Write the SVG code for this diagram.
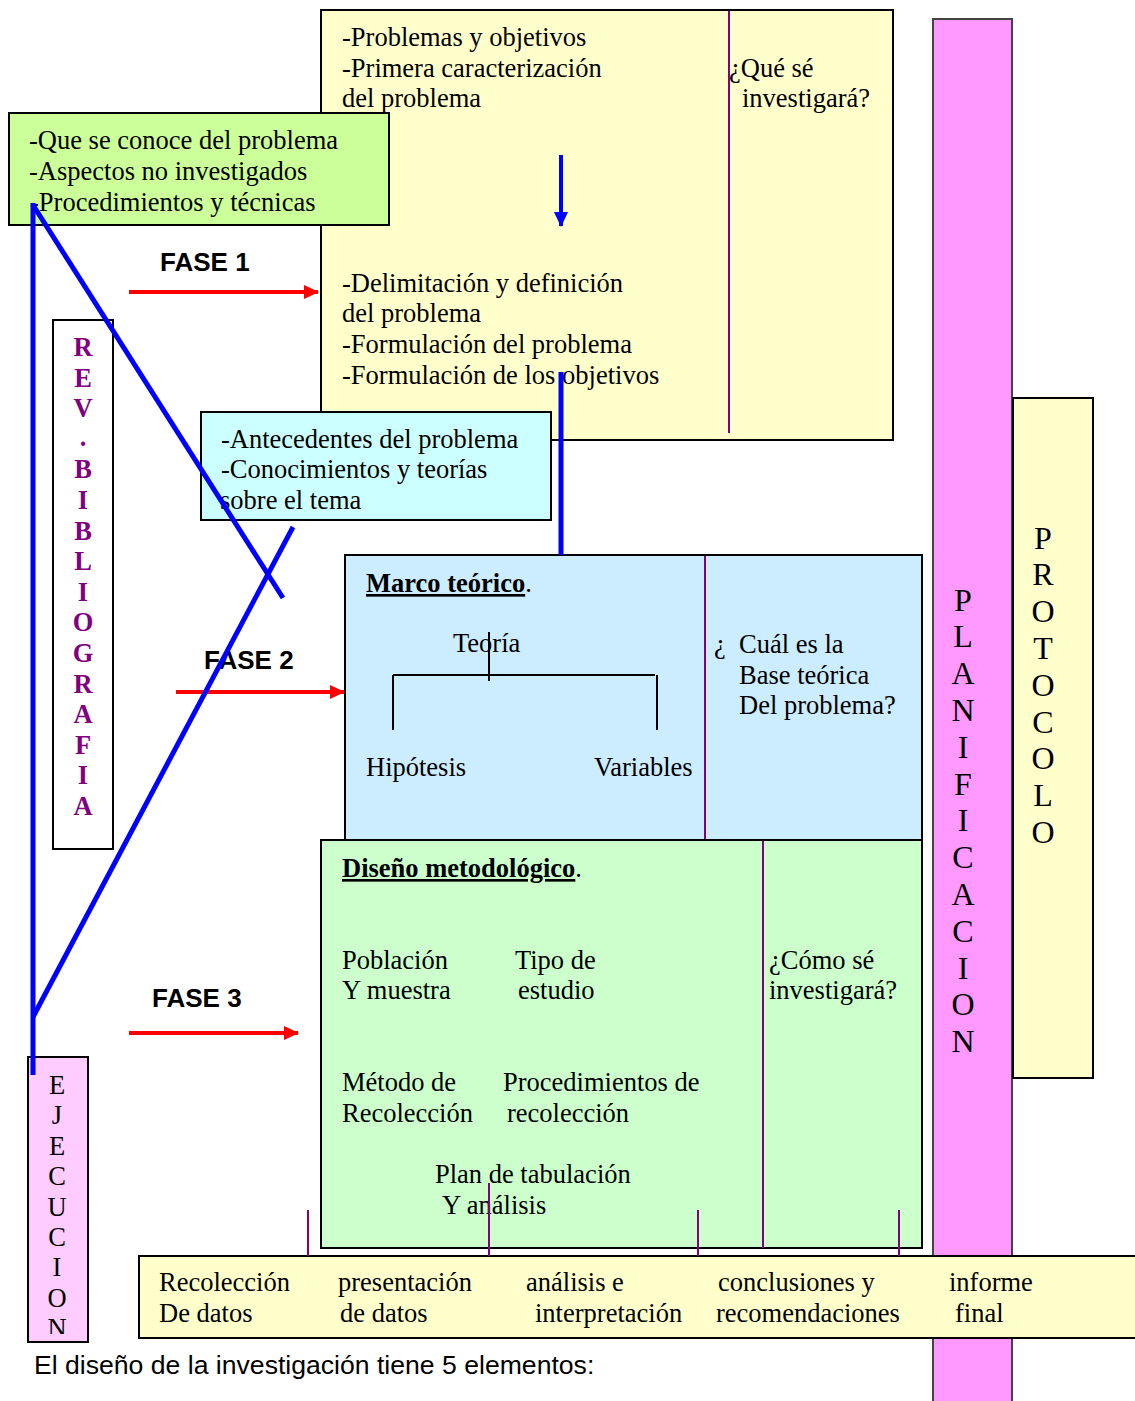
<svg xmlns="http://www.w3.org/2000/svg" width="1135" height="1401" viewBox="0 0 1135 1401">
<style>
.t{font-family:"Liberation Serif","Times New Roman",serif;font-size:26.5px;fill:#000}
.tb{font-family:"Liberation Serif","Times New Roman",serif;font-size:26.5px;font-weight:bold;fill:#000}
.rev{font-family:"Liberation Serif","Times New Roman",serif;font-size:26.5px;font-weight:bold;fill:#800080;text-anchor:middle}
.vl{font-family:"Liberation Serif","Times New Roman",serif;font-size:26.5px;fill:#000;text-anchor:middle}
.vb{font-family:"Liberation Serif","Times New Roman",serif;font-size:32px;fill:#000;text-anchor:middle}
.fase{font-family:"Liberation Sans",Arial,sans-serif;font-size:26px;font-weight:bold;fill:#000}
.cap{font-family:"Liberation Sans",Arial,sans-serif;font-size:26.6px;fill:#000}
.box{stroke:#000;stroke-width:2}
.div{stroke:#800080;stroke-width:2;fill:none}
.tree{stroke:#000;stroke-width:2;fill:none}
.blue{stroke:#0000FF;stroke-width:5;fill:none}
.red{stroke:#FF0000;stroke-width:4;fill:none}
.ul{text-decoration:underline}
</style>
<defs>
<marker id="ra" markerUnits="userSpaceOnUse" markerWidth="16" markerHeight="14" refX="14" refY="7" orient="auto"><path d="M0,0 L15,7 L0,14 z" fill="#FF0000"/></marker>
<marker id="ba" markerUnits="userSpaceOnUse" markerWidth="16" markerHeight="14" refX="14" refY="7" orient="auto"><path d="M0,0 L15,7 L0,14 z" fill="#0000FF"/></marker>
<clipPath id="ejclip"><rect x="28" y="1057" width="60" height="277"/></clipPath>
</defs>

<g id="planificacion">
<rect x="933" y="19" width="79" height="1390" fill="#FF99FF" stroke="#444" stroke-width="2"/>
<text class="vb"><tspan x="963" y="610.5">P</tspan><tspan x="963" y="647.3">L</tspan><tspan x="963" y="684.1">A</tspan><tspan x="963" y="720.9">N</tspan><tspan x="963" y="757.7">I</tspan><tspan x="963" y="794.5">F</tspan><tspan x="963" y="831.3">I</tspan><tspan x="963" y="868.1">C</tspan><tspan x="963" y="904.9">A</tspan><tspan x="963" y="941.7">C</tspan><tspan x="963" y="978.5">I</tspan><tspan x="963" y="1015.3">O</tspan><tspan x="963" y="1052.1">N</tspan></text>
</g>

<g id="protocolo">
<rect x="1013" y="398" width="80" height="680" fill="#FFFFCC" class="box"/>
<text class="vb"><tspan x="1043" y="548.5">P</tspan><tspan x="1043" y="585.3">R</tspan><tspan x="1043" y="622.1">O</tspan><tspan x="1043" y="658.9">T</tspan><tspan x="1043" y="695.7">O</tspan><tspan x="1043" y="732.5">C</tspan><tspan x="1043" y="769.3">O</tspan><tspan x="1043" y="806.1">L</tspan><tspan x="1043" y="842.9">O</tspan></text>
</g>

<g id="fase1-box">
<rect x="321" y="10" width="572" height="430" fill="#FFFFCC" class="box"/>
<line x1="729" y1="11" x2="729" y2="433" class="div"/>
<text class="t" x="342" y="46">-Problemas y objetivos</text>
<text class="t" x="342" y="77">-Primera caracterización</text>
<text class="t" x="342" y="107">del problema</text>
<text class="t" x="729" y="77">¿Qué sé</text>
<text class="t" x="742" y="107">investigará?</text>
<text class="t" x="342" y="292">-Delimitación y definición</text>
<text class="t" x="342" y="322">del problema</text>
<text class="t" x="342" y="353">-Formulación del problema</text>
<text class="t" x="342" y="384">-Formulación de los objetivos</text>
</g>

<g id="conoce-box">
<rect x="9" y="113" width="380" height="112" fill="#CCFF99" class="box"/>
<text class="t" x="29" y="149">-Que se conoce del problema</text>
<text class="t" x="29" y="180">-Aspectos no investigados</text>
<text class="t" x="30" y="211">-Procedimientos y técnicas</text>
</g>

<g id="rev-bibliografia">
<rect x="53" y="320" width="60" height="529" fill="#FFFFFF" class="box"/>
<text class="rev"><tspan x="83" y="356">R</tspan><tspan x="83" y="386.6">E</tspan><tspan x="83" y="417.2">V</tspan><tspan x="83" y="446">.</tspan><tspan x="83" y="478.4">B</tspan><tspan x="83" y="509">I</tspan><tspan x="83" y="539.6">B</tspan><tspan x="83" y="570.2">L</tspan><tspan x="83" y="600.8">I</tspan><tspan x="83" y="631.4">O</tspan><tspan x="83" y="662">G</tspan><tspan x="83" y="692.6">R</tspan><tspan x="83" y="723.2">A</tspan><tspan x="83" y="753.8">F</tspan><tspan x="83" y="784.4">I</tspan><tspan x="83" y="815">A</tspan></text>
</g>

<g id="antecedentes-box">
<rect x="201" y="412" width="350" height="108" fill="#CCFFFF" class="box"/>
<text class="t" x="221" y="448">-Antecedentes del problema</text>
<text class="t" x="221" y="478">-Conocimientos y teorías</text>
<text class="t" x="220" y="509">sobre el tema</text>
</g>

<g id="marco-teorico">
<rect x="345" y="555" width="577" height="285" fill="#CCECFF" class="box"/>
<line x1="705" y1="556" x2="705" y2="840" class="div"/>
<text class="tb" x="366" y="592"><tspan class="ul">Marco teórico</tspan><tspan font-weight="normal">.</tspan></text>
<text class="t" x="453" y="652">Teoría</text>
<path class="tree" d="M489,632 V681 M393,675 H655 M393,675 V730 M657,675 V730"/>
<text class="t" x="366" y="776">Hipótesis</text>
<text class="t" x="594" y="776">Variables</text>
<text class="t" x="714" y="653" xml:space="preserve">¿  Cuál es la</text>
<text class="t" x="739" y="684">Base teórica</text>
<text class="t" x="739" y="714">Del problema?</text>
</g>

<g id="diseno-metodologico">
<rect x="321" y="840" width="601" height="408" fill="#CCFFCC" class="box"/>
<line x1="763" y1="841" x2="763" y2="1248" class="div"/>
<text class="tb" x="342" y="877"><tspan class="ul">Diseño metodológico</tspan><tspan font-weight="normal">.</tspan></text>
<text class="t" x="342" y="969">Población</text>
<text class="t" x="342" y="999">Y muestra</text>
<text class="t" x="515" y="969">Tipo de</text>
<text class="t" x="518" y="999">estudio</text>
<text class="t" x="769" y="969">¿Cómo sé</text>
<text class="t" x="769" y="999">investigará?</text>
<text class="t" x="342" y="1091">Método de</text>
<text class="t" x="342" y="1122">Recolección</text>
<text class="t" x="503" y="1091">Procedimientos de</text>
<text class="t" x="507" y="1122">recolección</text>
<text class="t" x="435" y="1183">Plan de tabulación</text>
<text class="t" x="442" y="1214">Y análisis</text>
</g>

<g id="ejecucion">
<rect x="28" y="1057" width="60" height="285" fill="#FFCCFF" class="box"/>
<text class="vl" clip-path="url(#ejclip)"><tspan x="57" y="1094">E</tspan><tspan x="57" y="1124.4">J</tspan><tspan x="57" y="1154.8">E</tspan><tspan x="57" y="1185.2">C</tspan><tspan x="57" y="1215.6">U</tspan><tspan x="57" y="1246">C</tspan><tspan x="57" y="1276.4">I</tspan><tspan x="57" y="1306.8">O</tspan><tspan x="57" y="1337.2">N</tspan></text>
</g>

<g id="ejecucion-steps">
<rect x="139" y="1256" width="1005" height="82" fill="#FFFFCC" class="box"/>
<text class="t" x="159" y="1291">Recolección</text>
<text class="t" x="159" y="1322">De datos</text>
<text class="t" x="338" y="1291">presentación</text>
<text class="t" x="340" y="1322">de datos</text>
<text class="t" x="526" y="1291">análisis e</text>
<text class="t" x="535" y="1322">interpretación</text>
<text class="t" x="718" y="1291">conclusiones y</text>
<text class="t" x="716" y="1322">recomendaciones</text>
<text class="t" x="949" y="1291">informe</text>
<text class="t" x="955" y="1322">final</text>
</g>

<g id="fase-labels">
<text class="fase" x="160" y="271">FASE 1</text>
<text class="fase" x="204" y="669">FASE 2</text>
<text class="fase" x="152" y="1007">FASE 3</text>
</g>

<g id="connectors">
<line x1="129" y1="292" x2="318" y2="292" class="red" marker-end="url(#ra)"/>
<line x1="176" y1="692" x2="344" y2="692" class="red" marker-end="url(#ra)"/>
<line x1="129" y1="1033" x2="298" y2="1033" class="red" marker-end="url(#ra)"/>
<line x1="561" y1="155" x2="561" y2="226" stroke="#0000FF" stroke-width="4" marker-end="url(#ba)"/>
<line x1="561" y1="372" x2="561" y2="555" class="blue"/>
<line x1="33" y1="203" x2="33" y2="1075" class="blue"/>
<line x1="33" y1="205" x2="283" y2="598" class="blue"/>
<line x1="293" y1="527" x2="33" y2="1017" class="blue"/>
<path class="div" d="M308,1210 V1256 M489,1183 V1256 M698,1210 V1256 M899,1210 V1256"/>
</g>

<text class="cap" x="34" y="1374">El diseño de la investigación tiene 5 elementos:</text>
</svg>
